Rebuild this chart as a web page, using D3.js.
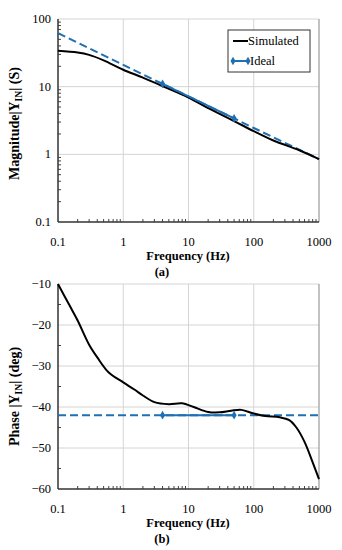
<!DOCTYPE html>
<html>
<head>
<meta charset="utf-8">
<script src="https://cdn.jsdelivr.net/npm/d3@7"></script>
<style>
  body { margin: 0; background: #fff; }
  .tick-label { font-size: 12.5px; }
  .axis-title { font-size: 12.5px; font-weight: bold; }
  .y-title { font-size: 14px; font-weight: bold; }
</style>
</head>
<body>
<svg id="chart" width="342" height="550" font-family="'Liberation Serif', 'DejaVu Serif', serif"></svg>
<script>
// frequency axis ticks
const freqTicks = [0.1, 1, 10, 100, 1000];

// magnitude |Y_IN| (S)
const simFreq = [0.1, 0.2, 0.3, 0.5, 1, 2, 4, 10, 20, 50, 100, 200, 500, 1000];
const simMag = [34, 32, 29.5, 24.5, 17.8, 13.6, 10.2, 6.9, 4.8, 3.1, 2.2, 1.6, 1.15, 0.85];
const idealFreq = [0.1, 1, 4, 10, 50, 100, 1000];
const idealMag = [62, 21, 11, 7.2, 3.4, 2.45, 0.85];
const markerFreq = [4, 50];
const magTicks = [0.1, 1, 10, 100];

// phase |Y_IN| (deg)
const phaseFreq = [0.1, 0.15, 0.2, 0.3, 0.4, 0.6, 1, 1.5, 2, 3, 5, 8, 12, 20, 30, 45, 65, 100, 150, 250, 350, 450, 600, 800, 1000];
const simPhase = [-10, -15.2, -18.9, -24.8, -27.9, -31.6, -34, -35.8, -37.2, -38.8, -39.3, -39.1, -40, -41.2, -41.3, -40.9, -40.7, -41.6, -42.2, -42.5, -43.2, -45, -48.5, -53.5, -57.6];
const idealPhaseFreq = [0.1, 4, 50, 1000];
const idealPhase = [-42, -42, -42, -42];
const phaseTicks = [-60, -50, -40, -30, -20, -10];

const svg = d3.select("#chart");
const blue = "#1f6fb4";
const margin = { left: 58, right: 319 };

function minorFreqTicks() {
    const out = [];
    for (let d = 0.1; d < 1000; d *= 10) {
        for (let k = 2; k <= 9; k++) out.push(+(d * k).toPrecision(3));
    }
    return out;
}

function drawPanel(cfg) {
    const g = svg.append("g");
    const x = d3.scaleLog().domain([0.1, 1000]).range([margin.left, margin.right]);
    const y = cfg.y;
    const [top, bottom] = [y.range()[1], y.range()[0]];

    // grid
    g.selectAll(".vgrid").data(freqTicks.slice(1, -1)).enter().append("line")
        .attr("x1", (d) => x(d)).attr("x2", (d) => x(d))
        .attr("y1", top).attr("y2", bottom)
        .attr("stroke", "#d4d4d4").attr("stroke-width", 1);
    g.selectAll(".hgrid").data(cfg.ticks.slice(1)).enter().append("line")
        .attr("x1", margin.left).attr("x2", margin.right)
        .attr("y1", (d) => y(d)).attr("y2", (d) => y(d))
        .attr("stroke", "#d4d4d4").attr("stroke-width", 1);

    // right border
    g.append("line").attr("x1", margin.right).attr("x2", margin.right)
        .attr("y1", top).attr("y2", bottom).attr("stroke", "#9a9a9a").attr("stroke-width", 1.2);

    // minor ticks
    g.selectAll(".xminor").data(minorFreqTicks()).enter().append("line")
        .attr("x1", (d) => x(d)).attr("x2", (d) => x(d))
        .attr("y1", bottom).attr("y2", bottom - 3)
        .attr("stroke", "#444").attr("stroke-width", 1);
    g.selectAll(".yminor").data(cfg.minor).enter().append("line")
        .attr("x1", margin.left).attr("x2", margin.left + 3)
        .attr("y1", (d) => y(d)).attr("y2", (d) => y(d))
        .attr("stroke", "#444").attr("stroke-width", 1);

    // axis lines
    g.append("line").attr("x1", margin.left).attr("x2", margin.right)
        .attr("y1", bottom).attr("y2", bottom).attr("stroke", "#333").attr("stroke-width", 1.5);
    g.append("line").attr("x1", margin.left).attr("x2", margin.left)
        .attr("y1", top).attr("y2", bottom).attr("stroke", "#333").attr("stroke-width", 1.5);

    // tick labels
    g.selectAll(".xlab").data(freqTicks).enter().append("text")
        .attr("class", "tick-label")
        .attr("x", (d) => x(d)).attr("y", bottom + 24)
        .attr("text-anchor", "middle")
        .text((d) => d);
    g.selectAll(".ylab").data(cfg.ticks).enter().append("text")
        .attr("class", "tick-label")
        .attr("x", margin.left - 7).attr("y", (d) => y(d) + 4)
        .attr("text-anchor", "end")
        .text(cfg.fmt);

    // titles
    g.append("text").attr("class", "axis-title")
        .attr("x", 188).attr("y", bottom + 38).attr("text-anchor", "middle")
        .text("Frequency (Hz)");
    g.append("text").attr("class", "axis-title")
        .attr("x", 162).attr("y", bottom + 54).attr("text-anchor", "middle")
        .text(cfg.caption);

    const yt = g.append("text").attr("class", "y-title")
        .attr("transform", `translate(19, ${(top + bottom) / 2 + cfg.titleShift}) rotate(-90)`)
        .attr("text-anchor", "middle");
    yt.append("tspan").text(cfg.ylabel[0]);
    yt.append("tspan").attr("font-size", "9.5px").attr("dy", 3).text("IN");
    yt.append("tspan").attr("dy", -3).text(cfg.ylabel[1]);

    const line = d3.line().x((d) => x(d[0])).y((d) => y(d[1]));

    // ideal dashed
    const ideal = cfg.idealF.map((f, i) => [f, cfg.idealV[i]]);
    g.append("path").datum(ideal)
        .attr("fill", "none").attr("stroke", blue).attr("stroke-width", 2)
        .attr("stroke-dasharray", "8,4").attr("d", line);

    // simulated
    const sim = cfg.simF.map((f, i) => [f, cfg.simV[i]]);
    g.append("path").datum(sim)
        .attr("fill", "none").attr("stroke", "#000").attr("stroke-width", 2)
        .attr("d", d3.line().x((d) => x(d[0])).y((d) => y(d[1])).curve(d3.curveCatmullRom.alpha(0.5)));

    // ideal solid segment with markers
    const seg = ideal.filter((d) => d[0] >= markerFreq[0] && d[0] <= markerFreq[1]);
    g.append("path").datum(seg)
        .attr("fill", "none").attr("stroke", blue).attr("stroke-width", 2)
        .attr("d", line);
    g.selectAll(".mk").data(seg.filter((d) => markerFreq.includes(d[0]))).enter().append("path")
        .attr("transform", (d) => `translate(${x(d[0])},${y(d[1])})`)
        .attr("d", d3.symbol(d3.symbolDiamond, 22))
        .attr("fill", blue);
    return g;
}

// magnitude panel
const yMag = d3.scaleLog().domain([0.1, 100]).range([222, 19]);
const magMinor = [];
[0.1, 1, 10].forEach((d) => { for (let k = 2; k <= 9; k++) magMinor.push(d * k); });
drawPanel({
    y: yMag,
    ticks: magTicks,
    minor: magMinor,
    fmt: (d) => d,
    caption: "(a)",
    ylabel: ["Magnitude|Y", "| (S)"],
    titleShift: 3,
    simF: simFreq, simV: simMag,
    idealF: idealFreq, idealV: idealMag,
});

// phase panel
const yPh = d3.scaleLinear().domain([-60, -10]).range([489, 284]);
drawPanel({
    y: yPh,
    ticks: phaseTicks,
    minor: [-55, -45, -35, -25, -15],
    fmt: (d) => "\u2212" + Math.abs(d),
    caption: "(b)",
    ylabel: ["Phase |Y", "| (deg)"],
    titleShift: 10,
    simF: phaseFreq, simV: simPhase,
    idealF: idealPhaseFreq, idealV: idealPhase,
});

// legend
const lg = svg.append("g").attr("transform", "translate(228,30)");
lg.append("rect").attr("width", 82).attr("height", 42)
    .attr("fill", "#fff").attr("stroke", "#333").attr("stroke-width", 1);
lg.append("line").attr("x1", 5).attr("x2", 20).attr("y1", 11).attr("y2", 11)
    .attr("stroke", "#000").attr("stroke-width", 2);
lg.append("text").attr("class", "tick-label").attr("x", 20).attr("y", 15).text("Simulated");
lg.append("line").attr("x1", 5).attr("x2", 20).attr("y1", 31).attr("y2", 31)
    .attr("stroke", blue).attr("stroke-width", 2);
[5, 20].forEach((px) => {
    lg.append("path").attr("transform", `translate(${px},31)`)
        .attr("d", d3.symbol(d3.symbolDiamond, 22)).attr("fill", blue);
});
lg.append("text").attr("class", "tick-label").attr("x", 22).attr("y", 35).text("Ideal");
</script>
</body>
</html>
